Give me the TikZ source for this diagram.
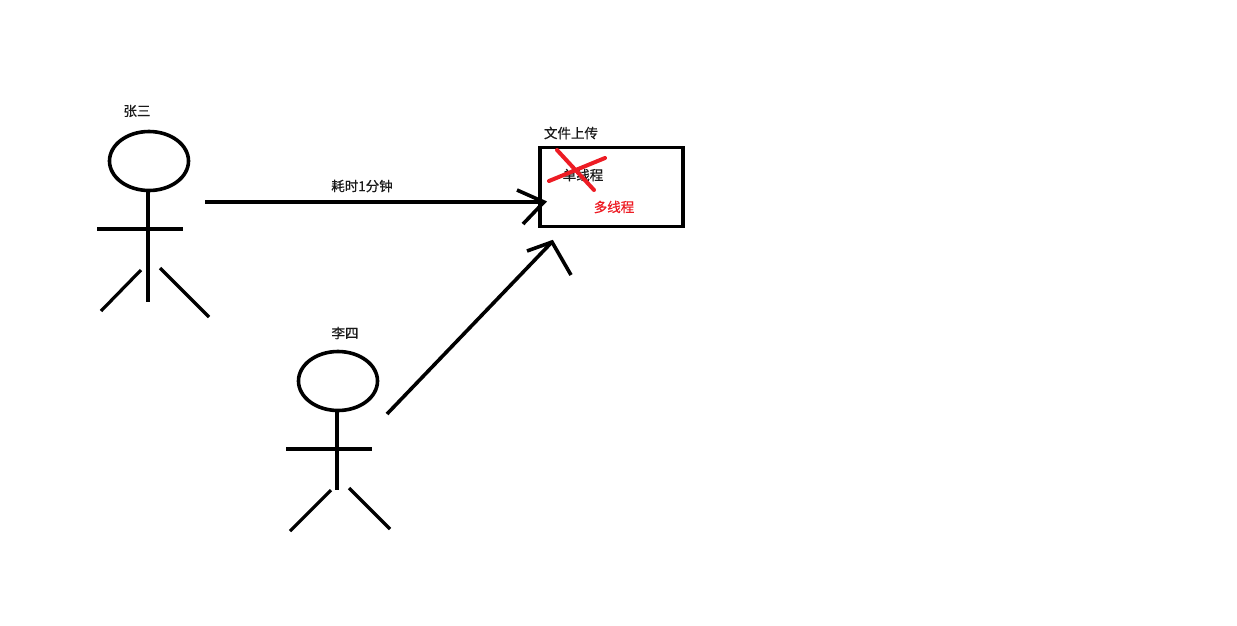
\documentclass[tikz,border=0pt]{standalone}
\usepackage{fontspec}
\usetikzlibrary{shapes.geometric}
\newfontfamily\cjk[FakeBold=0.6]{Noto Sans CJK SC}
\definecolor{markred}{RGB}{237,28,36}
\tikzset{
  stroke/.style={draw=black,line width=3.6pt},
  thin stroke/.style={draw=black,line width=3.2pt},
  headshape/.style={ellipse,draw=black,line width=3.6pt,inner sep=0pt,outer sep=0pt,minimum width=79pt,minimum height=59pt},
  lbl/.style={font=\cjk\fontsize{13.5}{15}\selectfont,text=black!90,inner sep=0pt},
  redlbl/.style={lbl,text=markred},
  filebox/.style={rectangle,draw=black,line width=3.6pt,inner sep=0pt,outer sep=0pt,minimum width=143pt,minimum height=79pt},
  cross/.style={draw=markred,line width=4pt,line cap=round}
}
\begin{document}
\begin{tikzpicture}[x=1pt,y=-1pt]
\useasboundingbox (0,0) rectangle (1237,625);
% person 1
\node[headshape] (h1) at (149,161) {};
\coordinate (b1) at (148,302);
\coordinate (a1l) at (97,229);
\coordinate (a1r) at (183,229);
\coordinate (l1a) at (141,270);
\coordinate (l1b) at (101,311);
\coordinate (l1c) at (160,268);
\coordinate (l1d) at (209,317);
\draw[stroke] (h1.south -| b1) -- (b1);
\draw[stroke] (a1l) -- (a1r);
\draw[thin stroke] (l1a) -- (l1b);
\draw[thin stroke] (l1c) -- (l1d);
\node[lbl] (n1) at (137,111) {张三};
% person 2
\node[headshape] (h2) at (338,381) {};
\coordinate (b2) at (337,490);
\coordinate (a2l) at (286,449);
\coordinate (a2r) at (372,449);
\coordinate (l2a) at (331,490);
\coordinate (l2b) at (290,531);
\coordinate (l2c) at (349,488);
\coordinate (l2d) at (390,529);
\draw[stroke] (h2.south -| b2) -- (b2);
\draw[stroke] (a2l) -- (a2r);
\draw[thin stroke] (l2a) -- (l2b);
\draw[thin stroke] (l2c) -- (l2d);
\node[lbl] (n2) at (345,333) {李四};
% file box
\node[filebox] (box) at (611.5,187) {};
\node[lbl] (t) at (571,133) {文件上传};
\node[lbl] (single) at (583,175) {单线程};
\node[redlbl] (multi) at (614,207) {多线程};
\coordinate (c1) at (557,150);
\coordinate (c2) at (594,190);
\coordinate (c3) at (549,181);
\coordinate (c4) at (605,158);
\draw[cross] (c1) -- (c2);
\draw[cross] (c3) -- (c4);
% arrow 1
\coordinate (s1) at (205,202);
\coordinate (e1) at (544,202);
\coordinate (e1u) at (517,190);
\coordinate (e1d) at (523,224);
\draw[stroke] (s1) -- (e1);
\draw[stroke] (e1u) -- (e1) -- (e1d);
\node[lbl] (time) at (362,186) {耗时1分钟};
% arrow 2
\coordinate (s2) at (387,414);
\coordinate (e2) at (552,242);
\coordinate (e2u) at (527,251);
\coordinate (e2d) at (571,275);
\draw[stroke] (s2) -- (e2);
\draw[stroke] (e2u) -- (e2) -- (e2d);
\end{tikzpicture}
\end{document}
